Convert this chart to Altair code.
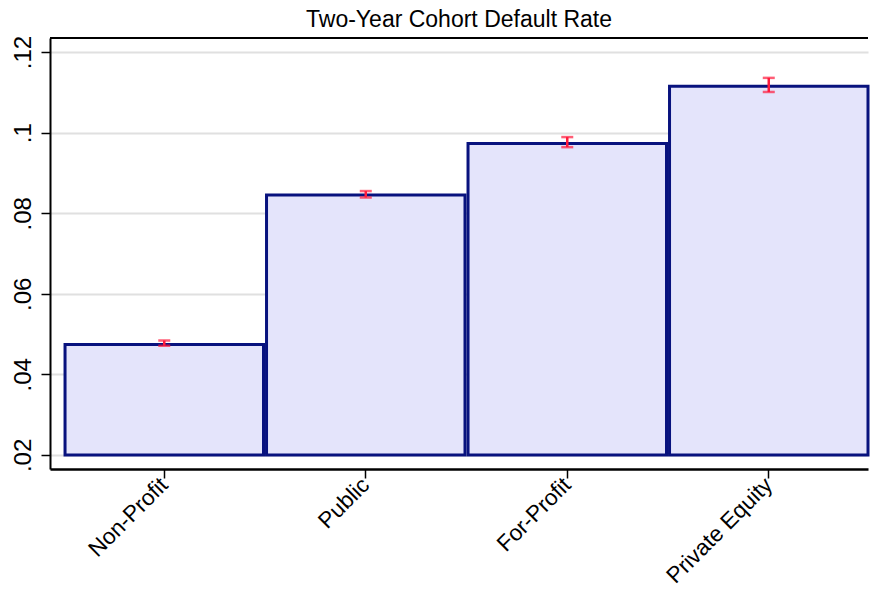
import altair as alt
import pandas as pd

# values
sectors = ["Non-Profit", "Public", "For-Profit", "Private Equity"]
rates = [0.0474, 0.0845, 0.0973, 0.1115]
ci_low = [0.0471, 0.0839, 0.0964, 0.1101]
ci_high = [0.0484, 0.0855, 0.0989, 0.1136]
y_ticks = [0.02, 0.04, 0.06, 0.08, 0.10, 0.12]

df = pd.DataFrame({"sector": sectors, "rate": rates, "lo": ci_low, "hi": ci_high})

W = 818
H = 431
FONT = "Liberation Sans"

x_enc = alt.X(
    "sector:N",
    sort=sectors,
    title="",
    scale=alt.Scale(paddingInner=0.015, paddingOuter=0.0373, align=1),
    axis=alt.Axis(
        labelAngle=315, labelAlign="right", labelBaseline="middle",
        labelFont=FONT, labelFontSize=22.5, labelColor="black", labelPadding=3,
        tickColor="black", tickSize=9, tickWidth=1.5,
        domainColor="black", domainWidth=2.5, grid=False,
    ),
)

y_scale = alt.Scale(domain=[0.0165, 0.1235], nice=False, zero=False)

bars = alt.Chart(df).mark_bar(
    fill="#e4e4fb", stroke="#08127e", strokeWidth=3
).encode(
    x=x_enc,
    y=alt.Y(
        "rate:Q",
        scale=y_scale,
        title="",
        axis=alt.Axis(
            values=y_ticks,
            labelExpr="replace(format(datum.value, '.2~f'), '0.', '.')",
            labelAngle=270, labelAlign="center", labelBaseline="bottom",
            labelFont=FONT, labelFontSize=24, labelColor="black", labelPadding=6,
            tickColor="black", tickSize=9, tickWidth=1.5,
            domainColor="black", domainWidth=2,
            grid=True, gridColor="#e0e0e0", gridWidth=2,
        ),
    ),
    y2=alt.datum(0.02),
)

errs = alt.Chart(df).mark_errorbar(
    color="#ff1a3c", thickness=2.5, ticks={"size": 12, "thickness": 2.5, "color": "#ff1a3c"}
).encode(
    x=alt.X("sector:N", sort=sectors),
    y=alt.Y("lo:Q", scale=y_scale),
    y2="hi:Q",
)

top_line = alt.Chart(pd.DataFrame({"a": [0]})).mark_rule(
    color="black", strokeWidth=2
).encode(x=alt.value(0), x2=alt.value(W), y=alt.value(0))

chart = alt.layer(bars, errs, top_line).properties(
    width=W,
    height=H,
    autosize=alt.AutoSizeParams(type="none"),
    padding={"left": 42, "top": 30, "right": 2, "bottom": 117},
    title=alt.TitleParams(
        "Two-Year Cohort Default Rate", font=FONT, fontSize=23,
        fontWeight="normal", color="black", anchor="middle", offset=3,
    ),
).configure(background="white").configure_view(stroke=None)

chart.save("out.html", embed_options={"renderer": "svg", "actions": False})
